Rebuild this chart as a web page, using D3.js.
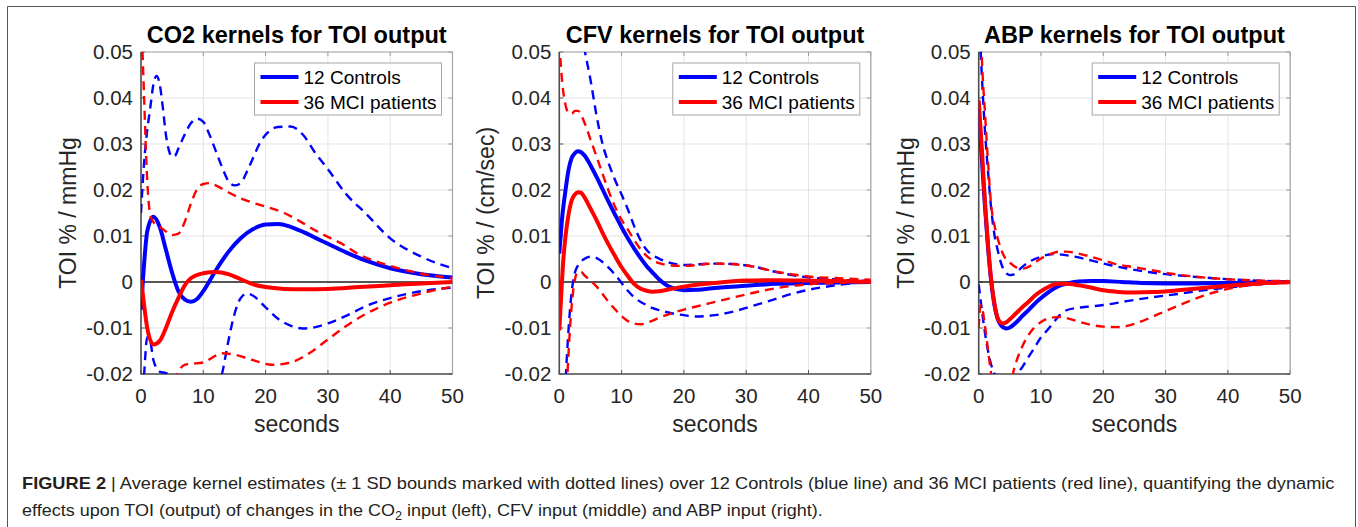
<!DOCTYPE html>
<html>
<head>
<meta charset="utf-8">
<script src="https://cdn.jsdelivr.net/npm/d3@7"></script>
<style>
  body { margin: 0; background: #fff; }
  svg { display: block; font-family: "Liberation Sans", Arial, sans-serif; }
</style>
</head>
<body>
<div id="chart"></div>
<script>
// ---- data: [seconds, value] ----
// CO2 -> TOI
const co2CtrlMean = [[0,-0.006],[0.5,0.004],[1,0.011],[2,0.0142],[3,0.012],[4,0.007],[5,0.002],[6,-0.002],[7,-0.0038],[8,-0.0043],[9,-0.0037],[10,-0.002],[12,0.0025],[14,0.0065],[16,0.0095],[18,0.0115],[20,0.0125],[22,0.0126],[24,0.012],[26,0.0109],[28,0.0096],[30,0.0083],[33,0.0064],[36,0.0047],[40,0.003],[45,0.0017],[50,0.001]];
const co2CtrlUp = [[0,0.015],[0.5,0.026],[1,0.033],[1.5,0.038],[2,0.043],[2.5,0.0448],[3,0.043],[3.5,0.038],[4,0.032],[4.5,0.0285],[5,0.0272],[5.5,0.0275],[6,0.029],[7,0.032],[8,0.0345],[9,0.0355],[10,0.0348],[11,0.032],[12,0.0285],[13,0.025],[14,0.022],[15,0.021],[16,0.0215],[17,0.024],[18,0.027],[19,0.030],[20,0.032],[22,0.0337],[24,0.0338],[26,0.032],[28,0.028],[30,0.0245],[33,0.019],[36,0.015],[40,0.0095],[45,0.0055],[50,0.003]];
const co2CtrlLo = [[0,-0.03],[0.5,-0.02],[1,-0.012],[1.5,-0.013],[2,-0.017],[3,-0.0195],[4,-0.0198],[5,-0.0205],[6,-0.023],[8,-0.027],[10,-0.028],[12,-0.024],[13,-0.02],[14,-0.013],[15,-0.007],[16,-0.0035],[17,-0.0025],[18,-0.003],[20,-0.0055],[22,-0.008],[24,-0.0095],[26,-0.0101],[28,-0.0098],[30,-0.009],[33,-0.0073],[36,-0.0053],[40,-0.0035],[45,-0.002],[50,-0.0012]];
const co2MciMean = [[0,0.0005],[0.5,-0.005],[1,-0.010],[2,-0.0136],[3,-0.0128],[4,-0.010],[5,-0.0065],[6,-0.0035],[7,-0.0008],[8,0.0008],[10,0.0019],[12,0.0022],[14,0.0017],[16,0.0006],[18,-0.0005],[20,-0.0011],[23,-0.0015],[26,-0.0016],[30,-0.0015],[35,-0.0011],[40,-0.0007],[45,-0.0003],[50,0]];
const co2MciUp = [[0,0.06],[0.5,0.04],[1,0.022],[1.5,0.0145],[2,0.013],[3,0.012],[4,0.011],[5,0.0102],[6,0.0105],[7,0.013],[8,0.017],[9,0.0202],[10,0.0213],[11,0.0215],[12,0.021],[14,0.0195],[16,0.0182],[18,0.0172],[20,0.0164],[23,0.015],[26,0.0128],[28,0.0112],[30,0.0098],[32,0.0085],[35,0.006],[40,0.0035],[45,0.0018],[50,0.0008]];
const co2MciLo = [[0,-0.06],[1,-0.045],[2,-0.04],[3,-0.035],[4,-0.028],[5,-0.023],[6,-0.0195],[7,-0.018],[8,-0.0178],[10,-0.0175],[12,-0.016],[13,-0.0155],[15,-0.0158],[18,-0.017],[21,-0.018],[24,-0.0175],[27,-0.0155],[30,-0.0125],[33,-0.0095],[36,-0.007],[40,-0.0045],[45,-0.0025],[50,-0.001]];

// CFV -> TOI
const cfvCtrlMean = [[0,0.0062],[0.5,0.0145],[1,0.020],[1.5,0.0245],[2,0.027],[2.5,0.028],[3,0.0284],[4,0.0276],[5,0.0254],[6,0.0228],[7,0.0200],[8,0.0172],[9,0.0145],[10,0.0119],[11,0.0095],[12,0.0073],[13,0.0053],[14,0.0035],[15,0.002],[16,0.0006],[17,-0.0005],[18,-0.0012],[20,-0.0018],[22,-0.0017],[25,-0.0013],[30,-0.0008],[35,-0.0004],[40,-0.0002],[45,-0.0001],[50,0]];
const cfvCtrlUp = [[0,0.09],[2,0.07],[3,0.06],[4,0.051],[5,0.044],[6,0.036],[7,0.0297],[8,0.0255],[9,0.022],[10,0.019],[11,0.0158],[12,0.0122],[13,0.0092],[14,0.007],[15,0.0058],[16,0.0051],[18,0.0041],[20,0.0037],[25,0.004],[28,0.0039],[31,0.0034],[35,0.0021],[40,0.001],[45,0.0005],[50,0.0002]];
const cfvCtrlLo = [[0,-0.06],[0.5,-0.04],[1,-0.022],[1.5,-0.01],[2,-0.002],[2.5,0.002],[3,0.0036],[4,0.005],[5,0.0055],[6,0.0052],[7,0.0043],[8,0.003],[9,0.0015],[10,-0.0002],[11,-0.0019],[12,-0.0033],[13,-0.0043],[14,-0.005],[15,-0.0057],[16,-0.0061],[18,-0.0068],[20,-0.0072],[22,-0.0075],[25,-0.0072],[28,-0.0064],[31,-0.0052],[34,-0.004],[37,-0.0027],[40,-0.0017],[45,-0.0006],[50,0.0002]];
const cfvMciMean = [[0,-0.0105],[0.3,-0.003],[0.6,0.004],[1,0.01],[1.5,0.0148],[2,0.0178],[2.5,0.019],[3,0.0195],[3.5,0.0194],[4,0.0185],[5,0.016],[6,0.0134],[7,0.0105],[8,0.0079],[9,0.0055],[10,0.0032],[11,0.0013],[12,-0.0004],[13,-0.0014],[14,-0.0019],[15,-0.0021],[16,-0.002],[18,-0.0015],[20,-0.001],[25,-0.0002],[30,0.0003],[35,0.0004],[40,0.0003],[45,0.0002],[50,0]];
const cfvMciUp = [[0,0.052],[0.5,0.043],[1,0.0385],[1.5,0.0367],[2,0.0366],[2.5,0.0372],[3,0.0372],[4,0.0348],[5,0.031],[6,0.0272],[7,0.0233],[8,0.0195],[9,0.0162],[10,0.0135],[11,0.0114],[12,0.0092],[13,0.0072],[14,0.0057],[15,0.0047],[16,0.0041],[18,0.0036],[20,0.0035],[25,0.004],[30,0.0036],[35,0.0022],[40,0.0012],[45,0.0008],[50,0.0005]];
const cfvMciLo = [[0,-0.075],[0.5,-0.05],[1,-0.03],[1.5,-0.015],[2,-0.005],[2.5,0.0005],[3,0.0022],[3.5,0.0022],[4,0.0015],[5,0.0003],[6,-0.001],[7,-0.0027],[8,-0.0045],[9,-0.006],[10,-0.0074],[11,-0.0085],[12,-0.009],[13,-0.0092],[14,-0.0089],[15,-0.0084],[16,-0.0078],[18,-0.0068],[20,-0.006],[23,-0.005],[26,-0.004],[30,-0.0027],[35,-0.0013],[40,-0.0005],[45,-0.0002],[50,0]];

// ABP -> TOI
const abpCtrlMean = [[0,0.0375],[0.5,0.027],[1,0.0165],[1.5,0.0075],[2,0.0002],[2.5,-0.0048],[3,-0.0078],[3.5,-0.0093],[4,-0.0099],[4.5,-0.0101],[5,-0.0099],[6,-0.0088],[7,-0.0074],[8,-0.0061],[9,-0.0047],[10,-0.0035],[11,-0.0024],[12,-0.0015],[13,-0.0008],[14,-0.0004],[16,0.0001],[18,0.0002],[20,0.0002],[23,0],[26,-0.0002],[30,-0.0003],[35,-0.0003],[40,-0.0002],[45,-0.0001],[50,0]];
const abpCtrlUp = [[0,0.06],[0.5,0.045],[1,0.033],[1.5,0.024],[2,0.016],[2.5,0.0105],[3,0.0072],[3.5,0.0045],[4,0.0027],[4.5,0.0018],[5,0.0015],[5.5,0.0016],[6,0.002],[7,0.0033],[8,0.0043],[9,0.005],[10,0.0055],[11,0.0059],[12,0.0061],[13,0.006],[15,0.0056],[18,0.0047],[21,0.0037],[24,0.0029],[27,0.0022],[30,0.0017],[35,0.0011],[40,0.0006],[45,0.0003],[50,0]];
const abpCtrlLo = [[0,-0.0005],[0.5,-0.006],[1,-0.011],[1.5,-0.015],[2,-0.018],[2.5,-0.0198],[3,-0.022],[4,-0.025],[5,-0.0245],[6,-0.0205],[7,-0.0185],[8,-0.0163],[9,-0.0142],[10,-0.012],[11,-0.0105],[12,-0.0088],[13,-0.0072],[14,-0.0062],[16,-0.0056],[18,-0.0053],[20,-0.005],[24,-0.0041],[28,-0.0033],[32,-0.0026],[36,-0.0018],[40,-0.0012],[45,-0.0005],[50,0]];
const abpMciMean = [[0,0.0395],[0.5,0.029],[1,0.0175],[1.5,0.008],[2,0.0005],[2.5,-0.0045],[3,-0.0077],[3.5,-0.0088],[4,-0.009],[4.5,-0.0087],[5,-0.0081],[6,-0.0068],[7,-0.0055],[8,-0.0043],[9,-0.003],[10,-0.002],[11,-0.0012],[12,-0.0006],[13,-0.0004],[14,-0.0004],[16,-0.0007],[18,-0.0012],[20,-0.0018],[22,-0.0021],[25,-0.0023],[28,-0.0022],[32,-0.0018],[36,-0.0013],[40,-0.0008],[45,-0.0003],[50,0]];
const abpMciUp = [[0,0.075],[0.5,0.049],[1,0.037],[1.5,0.026],[2,0.0167],[2.5,0.0125],[3,0.0097],[3.5,0.0075],[4,0.0058],[5,0.0042],[6,0.0032],[7,0.0029],[8,0.0033],[9,0.0042],[10,0.0051],[11,0.0058],[12,0.0063],[13,0.0066],[14,0.0066],[16,0.0062],[18,0.0055],[20,0.0047],[22,0.0039],[25,0.0032],[28,0.0025],[32,0.0016],[36,0.001],[40,0.0006],[45,0.0003],[50,0.0002]];
const abpMciLo = [[0,-0.01],[0.3,-0.005],[0.6,-0.006],[1,-0.0095],[1.5,-0.0148],[2,-0.02],[3,-0.028],[4,-0.031],[5,-0.025],[5.5,-0.02],[6,-0.0175],[7,-0.014],[8,-0.0115],[9,-0.0098],[10,-0.0087],[11,-0.008],[12,-0.0077],[13,-0.0076],[14,-0.0078],[16,-0.0086],[18,-0.0093],[20,-0.0097],[22,-0.0098],[24,-0.0095],[26,-0.0086],[28,-0.0075],[30,-0.0063],[33,-0.0046],[36,-0.003],[40,-0.0015],[45,-0.0005],[50,-0.0002]];

const titles = ["CO2 kernels for TOI output", "CFV kernels for TOI output", "ABP kernels for TOI output"];
const yLabels = ["TOI % / mmHg", "TOI % / (cm/sec)", "TOI % / mmHg"];
const legendLabels = ["12 Controls", "36 MCI patients"];
const xTicks = [0, 10, 20, 30, 40, 50];
const yTicks = [-0.02, -0.01, 0, 0.01, 0.02, 0.03, 0.04, 0.05];

// ---- layout ----
const width = 1358, height = 527;
const plotLefts = [141, 559.3, 978.7];
const plotW = 311.5, plotTop = 52, plotH = 322;
const blue = "#0000ff", red = "#ff0000";

const panels = [
  { ctrl: [co2CtrlMean, co2CtrlUp, co2CtrlLo], mci: [co2MciMean, co2MciUp, co2MciLo] },
  { ctrl: [cfvCtrlMean, cfvCtrlUp, cfvCtrlLo], mci: [cfvMciMean, cfvMciUp, cfvMciLo] },
  { ctrl: [abpCtrlMean, abpCtrlUp, abpCtrlLo], mci: [abpMciMean, abpMciUp, abpMciLo] }
];

const svg = d3.select("#chart")
  .append("svg")
    .attr("width", width)
    .attr("height", height);

// figure frame
svg.append("path")
  .attr("d", `M7.5,${height + 2}V6.5H1355.5V${height + 2}`)
  .attr("fill", "none")
  .attr("stroke", "#555")
  .attr("stroke-width", 1);

const fmtY = d => d === 0 ? "0" : (d < 0 ? "-" : "") + Math.abs(d).toFixed(2);

panels.forEach((p, i) => {
  const x = d3.scaleLinear().domain([0, 50]).range([0, plotW]);
  const y = d3.scaleLinear().domain([-0.02, 0.05]).range([plotH, 0]);

  const g = svg.append("g")
    .attr("transform", `translate(${plotLefts[i]}, ${plotTop})`);

  g.append("rect")
    .attr("width", plotW).attr("height", plotH)
    .attr("fill", "#fff");

  // grid
  g.append("g").selectAll("line")
    .data(xTicks)
    .join("line")
      .attr("x1", d => x(d)).attr("x2", d => x(d))
      .attr("y1", 0).attr("y2", plotH)
      .attr("stroke", "#e3e3e3").attr("stroke-width", 1);
  g.append("g").selectAll("line")
    .data(yTicks)
    .join("line")
      .attr("x1", 0).attr("x2", plotW)
      .attr("y1", d => y(d)).attr("y2", d => y(d))
      .attr("stroke", "#e3e3e3").attr("stroke-width", 1);

  // inward tick marks on all four sides
  const tk = 4;
  xTicks.forEach(t => {
    g.append("line").attr("x1", x(t)).attr("x2", x(t)).attr("y1", plotH).attr("y2", plotH - tk).attr("stroke", "#555");
    g.append("line").attr("x1", x(t)).attr("x2", x(t)).attr("y1", 0).attr("y2", tk).attr("stroke", "#999");
  });
  yTicks.forEach(v => {
    g.append("line").attr("x1", 0).attr("x2", tk).attr("y1", y(v)).attr("y2", y(v)).attr("stroke", "#555");
    g.append("line").attr("x1", plotW).attr("x2", plotW - tk).attr("y1", y(v)).attr("y2", y(v)).attr("stroke", "#999");
  });

  // clip
  const clipId = `clip-${i}`;
  svg.append("clipPath").attr("id", clipId)
    .append("rect").attr("x", plotLefts[i]).attr("y", plotTop).attr("width", plotW).attr("height", plotH);

  const lines = svg.append("g").attr("clip-path", `url(#${clipId})`)
    .append("g").attr("transform", `translate(${plotLefts[i]}, ${plotTop})`);

  // zero reference line
  lines.append("line")
    .attr("x1", x(0)).attr("x2", x(50))
    .attr("y1", y(0)).attr("y2", y(0))
    .attr("stroke", "#222").attr("stroke-width", 1.3);

  const lineGen = d3.line()
    .x(d => x(d[0]))
    .y(d => y(d[1]))
    .curve(d3.curveMonotoneX);

  [[p.ctrl, blue], [p.mci, red]].forEach(([set, col]) => {
    // mean (solid), then +SD and -SD (dashed)
    set.forEach((s, k) => {
      lines.append("path")
        .attr("d", lineGen(s))
        .attr("fill", "none")
        .attr("stroke", col)
        .attr("stroke-width", k === 0 ? 4 : 2.4)
        .attr("stroke-dasharray", k === 0 ? null : "9,6");
    });
  });

  // axes box
  g.append("path")
    .attr("d", `M0,0H${plotW}V${plotH}`)
    .attr("fill", "none").attr("stroke", "#a6a6a6").attr("stroke-width", 1.2);
  g.append("path")
    .attr("d", `M0,0V${plotH}H${plotW}`)
    .attr("fill", "none").attr("stroke", "#4d4d4d").attr("stroke-width", 1.6);

  // tick labels
  g.selectAll("text.xt")
    .data(xTicks)
    .join("text")
      .attr("class", "xt")
      .attr("x", d => x(d))
      .attr("y", plotH + 29)
      .attr("text-anchor", "middle")
      .attr("fill", "#262626")
      .style("font-size", "20.5px")
      .text(d => d);
  g.selectAll("text.yt")
    .data(yTicks)
    .join("text")
      .attr("class", "yt")
      .attr("x", -8)
      .attr("y", d => y(d))
      .attr("dy", "0.36em")
      .attr("text-anchor", "end")
      .attr("fill", "#262626")
      .style("font-size", "20.5px")
      .text(fmtY);

  // axis labels
  g.append("text")
    .attr("x", plotW / 2)
    .attr("y", plotH + 58)
    .attr("text-anchor", "middle")
    .attr("fill", "#262626")
    .style("font-size", "23px")
    .text("seconds");
  g.append("text")
    .attr("transform", `translate(${-65}, ${plotH / 2}) rotate(-90)`)
    .attr("text-anchor", "middle")
    .attr("fill", "#262626")
    .style("font-size", "23px")
    .text(yLabels[i]);

  // title
  g.append("text")
    .attr("x", plotW / 2)
    .attr("y", -9)
    .attr("text-anchor", "middle")
    .attr("fill", "#000")
    .style("font-size", "23.5px")
    .style("font-weight", 700)
    .text(titles[i]);

  // legend
  const lgW = 187, lgH = 52;
  const lg = g.append("g")
    .attr("transform", `translate(${plotW - 11 - lgW}, 11)`);
  lg.append("rect")
    .attr("width", lgW).attr("height", lgH)
    .attr("fill", "#fff").attr("stroke", "#a6a6a6").attr("stroke-width", 1);
  legendLabels.forEach((lab, k) => {
    const cy = 14 + k * 25;
    lg.append("line")
      .attr("x1", 6).attr("x2", 44)
      .attr("y1", cy).attr("y2", cy)
      .attr("stroke", k === 0 ? blue : red)
      .attr("stroke-width", 4);
    lg.append("text")
      .attr("x", 49).attr("y", cy)
      .attr("dy", "0.36em")
      .attr("fill", "#000")
      .style("font-size", "19px")
      .text(lab);
  });
});

// caption (condensed look: Liberation Sans squeezed to the measured line widths)
const cap = svg.append("g")
  .style("font-family", "'Liberation Sans', Arial, sans-serif")
  .style("font-size", "17px")
  .attr("fill", "#231f20");

const line1 = cap.append("text").attr("x", 0).attr("y", 0);
line1.append("tspan").style("font-weight", 700).text("FIGURE 2");
line1.append("tspan").text(" | Average kernel estimates (\u00b1 1 SD bounds marked with dotted lines) over 12 Controls (blue line) and 36 MCI patients (red line), quantifying the dynamic");

const line2 = cap.append("text").attr("x", 0).attr("y", 0);
line2.append("tspan").text("effects upon TOI (output) of changes in the CO");
line2.append("tspan").attr("dy", 4).style("font-size", "12px").text("2");
line2.append("tspan").attr("dy", -4).text(" input (left), CFV input (middle) and ABP input (right).");

// fit each caption line to its measured width
[[line1, 22, 489, 1314], [line2, 22, 516, 801]].forEach(([t, x0, y0, w]) => {
  const natural = t.node().getComputedTextLength();
  t.attr("transform", `translate(${x0}, ${y0}) scale(${w / natural}, 1)`);
});
</script>
</body>
</html>
